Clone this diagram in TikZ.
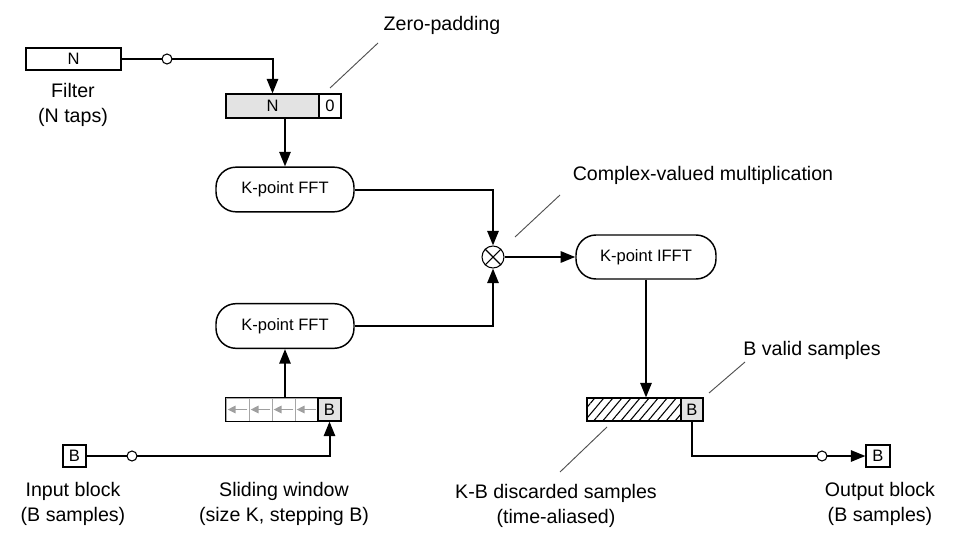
\documentclass[tikz,border=0pt]{standalone}
\usepackage{fontspec}
\setmainfont{Liberation Sans}
\usetikzlibrary{arrows.meta,patterns.meta,calc}
\definecolor{cellgray}{HTML}{E3E3E3}
\definecolor{leadgray}{HTML}{505050}
\begin{document}
\begin{tikzpicture}[x=0.75pt,y=-0.75pt,
  boxtext/.style={font=\fontsize{12.4}{14}\selectfont},
  cell/.style={draw=black,line width=0.8pt,inner sep=0pt,boxtext,minimum height=17.25pt},
  fftbox/.style={draw=black,line width=1.1pt,rounded corners=15pt,inner sep=0pt,boxtext,minimum width=103.5pt,minimum height=33.5pt},
  lbl/.style={align=center,font=\fontsize{14.7}{18.75}\selectfont},
  conn/.style={line width=1.5pt},
  arr/.style={conn,-{Triangle[length=11pt,width=8.5pt]}},
  junc/.style={circle,draw=black,line width=0.8pt,fill=white,inner sep=0pt,minimum size=7.5pt},
  leader/.style={draw=leadgray,line width=0.7pt},
  wincell/.style={draw=gray!70,line width=0.6pt,inner sep=0pt,minimum width=17.25pt,minimum height=17.25pt},
  shiftarr/.style={draw=gray!75,line width=1.3pt,-{Triangle[length=6pt,width=5.5pt]}}]
\useasboundingbox (0,0) rectangle (961,546);

% Filter
\node[cell,minimum width=71.25pt,minimum height=16.5pt] (filter) at (73.5,59) {N};
\node[lbl] (filterlbl) at (73,104.5) {Filter\\(N taps)};

% Zero-padded filter
\node[cell,fill=cellgray,minimum width=69.75pt,minimum height=18pt] (zpN) at (272.5,106) {N};
\node[cell,fill=white,minimum width=16.5pt,minimum height=18pt] (zp0) at (330,106) {0};
\node[lbl] (zplbl) at (442,25) {Zero-padding};
\coordinate (zpa) at (330,88);
\coordinate (zpb) at (378,43);
\draw[leader] (zpa) -- (zpb);

% FFTs
\node[fftbox] (fft1) at (285,189.5) {K-point FFT};
\node[fftbox] (fft2) at (285,326) {K-point FFT};

% Multiplier
\node[circle,draw=black,line width=0.8pt,inner sep=0pt,minimum size=16.5pt] (mult) at (493,257) {};
\draw[line width=0.8pt] ($(mult.center)+(-7.8,-7.8)$) -- ($(mult.center)+(7.8,7.8)$);
\draw[line width=0.8pt] ($(mult.center)+(-7.8,7.8)$) -- ($(mult.center)+(7.8,-7.8)$);
\node[lbl] (multlbl) at (703,175) {Complex-valued multiplication};
\coordinate (mla) at (515,237);
\coordinate (mlb) at (560,195);
\draw[leader] (mla) -- (mlb);

% IFFT
\node[fftbox,minimum width=105pt,minimum height=33pt] (ifft) at (646,257) {K-point IFFT};

% Sliding window
\node[wincell] (w1) at (237.5,409.5) {};
\node[wincell] (w2) at (260.5,409.5) {};
\node[wincell] (w3) at (283.5,409.5) {};
\node[wincell] (w4) at (306.5,409.5) {};
\node[cell,fill=cellgray,minimum width=17.25pt] (wB) at (329.5,409.5) {B};
\draw[line width=0.8pt] (w1.north west) rectangle (wB.south east);
\foreach \c in {w1,w2,w3,w4}{
  \draw[shiftarr] ($(\c.east)+(-2,0)$) -- ($(\c.west)+(2,0)$);
}
\node[lbl] (winlbl) at (284,503.5) {Sliding window\\(size K, stepping B)};

% Input block
\node[cell,minimum width=17.25pt,minimum height=16.5pt] (input) at (74.5,456) {B};
\node[lbl] (inlbl) at (73,503.5) {Input block\\(B samples)};

% Output of IFFT
\node[draw=black,line width=0.8pt,pattern={Lines[angle=50,distance=5.2pt,line width=0.8pt]},minimum width=70.5pt,minimum height=17.25pt,inner sep=0pt] (hatch) at (634,409.5) {};
\node[cell,fill=cellgray,minimum width=16.5pt] (vB) at (692,409.5) {B};
\node[lbl] (validlbl) at (812,350) {B valid samples};
\coordinate (vla) at (709,393);
\coordinate (vlb) at (745,362);
\draw[leader] (vla) -- (vlb);
\node[lbl] (disclbl) at (556,505.5) {K-B discarded samples\\(time-aliased)};
\coordinate (dla) at (560,472);
\coordinate (dlb) at (607,427);
\draw[leader] (dla) -- (dlb);

% Output block
\node[cell,minimum width=18pt,minimum height=16.5pt] (output) at (878,456) {B};
\node[lbl] (outlbl) at (880,503.5) {Output block\\(B samples)};

% Connectors
\draw[arr] (filter.east) -| (zpN.north);
\node[junc] (j1) at (167,59) {};
\draw[arr] (fft1.north |- zpN.south) -- (fft1.north);
\draw[arr] (fft1.east) -| (mult.north);
\draw[arr] (fft2.east) -| (mult.south);
\draw[arr] (mult.east) -- (ifft.west);
\draw[arr] (fft2.south |- w3.north) -- (fft2.south);
\draw[arr] (input.east) -| (wB.south);
\node[junc] (j2) at (132,456) {};
\draw[arr] (ifft.south) -- (ifft.south |- hatch.north);
\draw[arr] (vB.south) |- (output.west);
\node[junc] (j3) at (822,456) {};
\end{tikzpicture}
\end{document}
